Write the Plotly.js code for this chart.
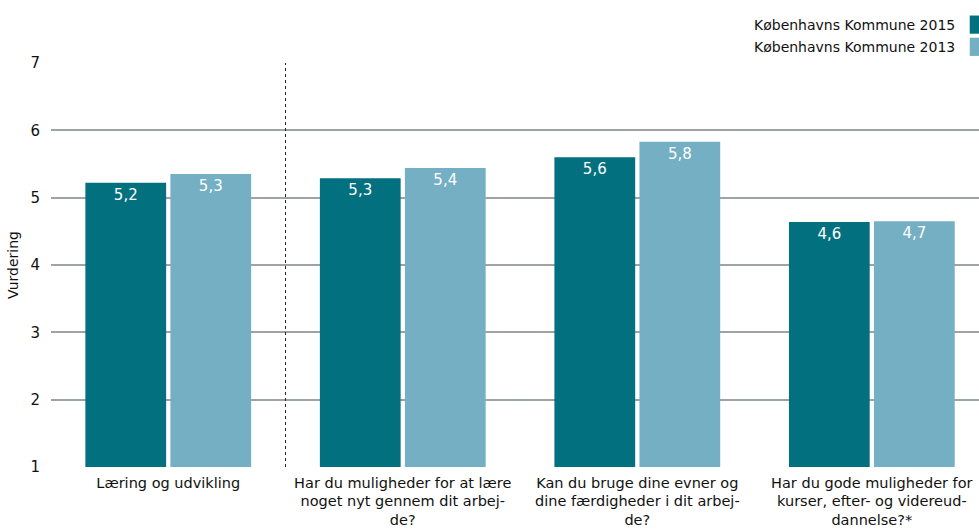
<!DOCTYPE html>
<html>
<head>
<meta charset="utf-8">
<script src="https://cdn.plot.ly/plotly-3.0.1.min.js"></script>
<style>html,body{margin:0;padding:0;background:#fff;}#chart{width:979px;height:529px;}</style>
</head>
<body>
<div id="chart"></div>
<script>
const categories = [
  "Læring og udvikling",
  "Har du muligheder for at lære<br>noget nyt gennem dit arbej-<br>de?",
  "Kan du bruge dine evner og<br>dine færdigheder i dit arbej-<br>de?",
  "Har du gode muligheder for<br>kurser, efter- og videreud-<br>dannelse?*"
];
const seriesNames = ["Københavns Kommune 2015", "Københavns Kommune 2013"];
const values2015 = [5.22, 5.29, 5.60, 4.64];
const values2013 = [5.35, 5.44, 5.83, 4.65];
const colors = ["#037080", "#75AFC4"];
const yTicks = [1, 2, 3, 4, 5, 6, 7];

const FONT = "DejaVu Sans, Verdana, sans-serif";
const xIdx = categories.map((_, i) => i);

function barTrace(vals, name, color) {
  return {
    type: "bar", x: xIdx, y: vals, name: name,
    marker: {color: color, line: {width: 0}},
    texttemplate: "%{y:.1f}", textposition: "inside", insidetextanchor: "end",
    textangle: 0, constraintext: "none",
    textfont: {color: "#ffffff", size: 15, family: FONT},
    hoverinfo: "skip", showlegend: false
  };
}

const data = [
  barTrace(values2015, seriesNames[0], colors[0]),
  barTrace(values2013, seriesNames[1], colors[1])
];

const layout = {
  width: 979, height: 529,
  margin: {l: 51, r: 0, t: 63, b: 62},
  paper_bgcolor: "#ffffff", plot_bgcolor: "#ffffff",
  separators: ",.",
  font: {family: FONT, size: 13, color: "#111111"},
  barmode: "group", bargap: 0.275, bargroupgap: 0.05,
  showlegend: false,
  xaxis: {
    range: [-0.5, 3.457], tickvals: xIdx, ticktext: categories,
    showgrid: false, zeroline: false, showline: false, ticks: "",
    ticklabelstandoff: 5,
    tickfont: {size: 14.5, family: FONT, color: "#111111"}, fixedrange: true
  },
  yaxis: {
    range: [1, 7], tickvals: yTicks, ticktext: yTicks.map(String),
    showgrid: true, gridcolor: "#9EA3A3", gridwidth: 2,
    zeroline: false, showline: false, ticks: "",
    ticklabelstandoff: 10,
    tickfont: {size: 15, family: FONT, color: "#111111"},
    title: {text: "Vurdering", font: {size: 14, family: FONT, color: "#111111"}, standoff: 8},
    fixedrange: true
  },
  shapes: [
    {type: "line", xref: "x", yref: "paper", x0: 0.5, x1: 0.5, y0: 0, y1: 1,
     line: {color: "#222222", width: 1, dash: "dot"}},
    {type: "rect", xref: "paper", yref: "paper", x0: 0.99, x1: 1.0, y0: 1.0725, y1: 1.1175,
     fillcolor: colors[0], line: {width: 0}},
    {type: "rect", xref: "paper", yref: "paper", x0: 0.99, x1: 1.0, y0: 1.0175, y1: 1.0625,
     fillcolor: colors[1], line: {width: 0}}
  ],
  annotations: [
    {xref: "paper", yref: "paper", x: 0.976, y: 1.095, xanchor: "right", yanchor: "middle",
     text: seriesNames[0], showarrow: false, font: {size: 14, family: FONT, color: "#111111"}},
    {xref: "paper", yref: "paper", x: 0.976, y: 1.04, xanchor: "right", yanchor: "middle",
     text: seriesNames[1], showarrow: false, font: {size: 14, family: FONT, color: "#111111"}}
  ]
};

Plotly.newPlot("chart", data, layout, {displayModeBar: false, staticPlot: true});
</script>
</body>
</html>
